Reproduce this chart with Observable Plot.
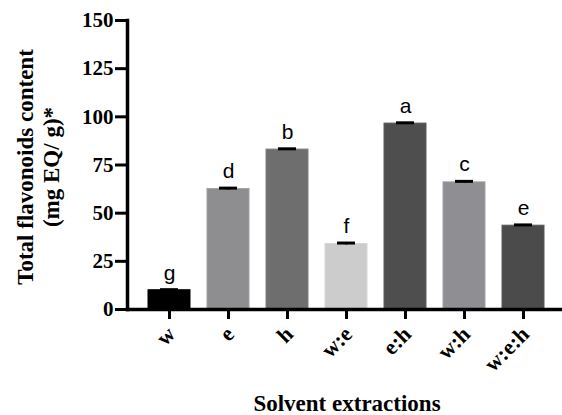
<!DOCTYPE html>
<html>
<head>
<meta charset="utf-8">
<script src="https://cdn.jsdelivr.net/npm/d3@7"></script>
<script src="https://cdn.jsdelivr.net/npm/@observablehq/plot@0.6"></script>
<style>
  html, body { margin: 0; padding: 0; background: #fff; }
  svg { display: block; }
</style>
</head>
<body>
<div id="chart"></div>
<script>
const categories = ["w", "e", "h", "w:e", "e:h", "w:h", "w:e:h"];
const values = [10, 62.5, 83, 34, 96.5, 66, 43.5];
const errors = [0.3, 0.5, 0.4, 0.5, 0.4, 0.5, 0.4];
const letters = ["g", "d", "b", "f", "a", "c", "e"];
const fills = ["#000000", "#8e8e91", "#6e6e6e", "#cccccc", "#4e4e4e", "#8f8f93", "#4b4b4b"];
const strokes = ["#000000", "#a0a0a2", "#7e7e7e", "#d8d8d8", "#5c5c5c", "#a2a2a5", "#595959"];
const yTicks = [0, 25, 50, 75, 100, 125, 150];
const yTitle1 = "Total flavonoids content";
const yTitle2 = "(mg EQ/ g)*";
const xTitle = "Solvent extractions";

const data = categories.map((c, i) => ({
  cat: c, value: values[i], err: errors[i], letter: letters[i], fill: fills[i], stroke: strokes[i]
}));

const serif = "'Liberation Serif', 'Times New Roman', serif";
const sans = "'Liberation Sans', Arial, sans-serif";

const chart = Plot.plot({
  width: 562,
  height: 415,
  marginTop: 20,
  marginBottom: 106,
  marginLeft: 127,
  marginRight: 2,
  x: { domain: categories, paddingInner: 0.28, paddingOuter: 0.14, insetLeft: 10, insetRight: 5 },
  y: { domain: [0, 150] },
  marks: [
    Plot.barY(data, { x: "cat", y: "value", fill: "fill", stroke: "stroke", strokeWidth: 1 }),
    Plot.ruleX(data, { x: "cat", y1: d => d.value - d.err, y2: d => d.value + d.err, stroke: "#000", strokeWidth: 2 }),
    Plot.tickY(data, { x: "cat", y: d => d.value + d.err, stroke: "#000", strokeWidth: 3, insetLeft: 12, insetRight: 12 }),
    Plot.text(data, { x: "cat", y: d => d.value + d.err, text: "letter", dy: -10, lineAnchor: "bottom", fontSize: 21, fontFamily: sans, fill: "#000" }),
    Plot.frame({ anchor: "left", stroke: "#000", strokeWidth: 3.5 }),
    Plot.frame({ anchor: "bottom", stroke: "#000", strokeWidth: 3.5 }),
    Plot.axisY({ ticks: yTicks, tickSize: 12, tickPadding: 2, strokeWidth: 3, fontSize: 21, fontWeight: "bold", fontFamily: serif, fill: "#000", stroke: "#000", label: null }),
    Plot.axisX({ tickSize: 10, text: null, strokeWidth: 3, stroke: "#000", label: null }),
    Plot.text(categories, { x: d => d, frameAnchor: "bottom", text: d => d, rotate: -45, textAnchor: "end", lineAnchor: "middle", dx: 2, dy: 21, fontSize: 22, fontWeight: "bold", fontFamily: serif, fill: "#000" }),
    Plot.text([yTitle1], { frameAnchor: "left", text: d => d, rotate: -90, textAnchor: "middle", dx: -102, dy: 2, lineAnchor: "middle", fontSize: 23, fontWeight: "bold", fontFamily: serif, fill: "#000" }),
    Plot.text([yTitle2], { frameAnchor: "left", text: d => d, rotate: -90, textAnchor: "middle", dx: -76, dy: 2, lineAnchor: "middle", fontSize: 23, fontWeight: "bold", fontFamily: serif, fill: "#000" }),
    Plot.text([xTitle], { frameAnchor: "bottom", text: d => d, dx: 3, dy: 94, lineAnchor: "middle", fontSize: 23, fontWeight: "bold", fontFamily: serif, fill: "#000" })
  ]
});
document.getElementById("chart").appendChild(chart);
</script>
</body>
</html>
